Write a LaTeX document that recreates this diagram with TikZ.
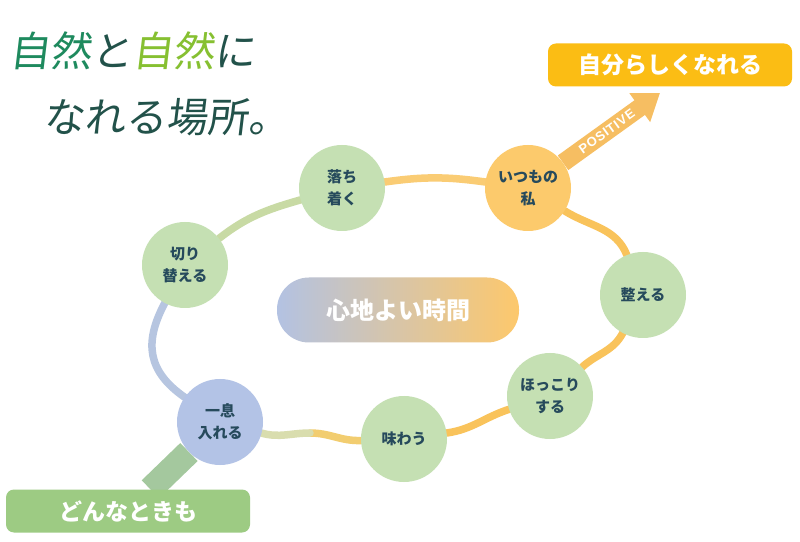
\documentclass[tikz,border=0pt]{standalone}
\usepackage{fontspec}
\setmainfont{Noto Sans CJK JP}
\newfontfamily\arrowfont[LetterSpace=6]{Liberation Sans}
\usetikzlibrary{arrows.meta,backgrounds}

\definecolor{leafgreen}{HTML}{C5E0B3}
\definecolor{mistblue}{HTML}{B3C3E6}
\definecolor{sunorange}{HTML}{FCCA6C}
\definecolor{inkblue}{HTML}{264A5C}
\definecolor{ringblue}{HTML}{B6C5E0}
\definecolor{ringgreen}{HTML}{C8DAA4}
\definecolor{ringlime}{HTML}{E2E3A2}
\definecolor{ringorange}{HTML}{F9C35B}
\definecolor{pillblue}{HTML}{B3C2E2}
\definecolor{pillorange}{HTML}{FDC86C}
\definecolor{goldbox}{HTML}{FBBD14}
\definecolor{grassbox}{HTML}{9DCB83}
\definecolor{stemgreen}{HTML}{A4C89E}
\definecolor{arroworange}{HTML}{F6BE62}
\definecolor{titledeep}{HTML}{1E8A5E}
\definecolor{titlelime}{HTML}{86C031}
\definecolor{titleink}{HTML}{22524A}

\begin{document}
\begin{tikzpicture}[x=1pt, y=1pt,
  moment/.style={circle, fill=leafgreen, minimum size=86pt, inner sep=0pt,
                 align=center, text=inkblue,
                 font=\fontsize{15}{22}\selectfont\bfseries},
  banner/.style={rounded corners=8pt, minimum width=244pt, minimum height=43pt,
                 text=white, font=\fontsize{23}{23}\selectfont\bfseries},
  ring/.style={line width=7.5pt, line cap=round},
  title/.style={anchor=west, xslant=0.12, transform shape, text=titleink,
                font=\fontsize{41}{41}\selectfont}]
\useasboundingbox (0,0) rectangle (800,541);

% the seven moments round the ring
\node[moment, fill=mistblue] (c1) at (220,119) {一息\\入れる};
\node[moment] (c2) at (185,276) {切り\\替える};
\node[moment] (c3) at (342,353) {落ち\\着く};
\node[moment, fill=sunorange] (c4) at (528,353) {いつもの\\私};
\node[moment] (c5) at (643,246) {整える};
\node[moment] (c6) at (550,145) {ほっこり\\する};
\node[moment] (c7) at (404,102) {味わう};

\node[shade, left color=pillblue, right color=pillorange, rounded corners=32pt,
      minimum width=242pt, minimum height=65pt, text=white,
      font=\fontsize{24}{24}\selectfont\bfseries] (core) at (398,231) {心地よい時間};

\node[banner, fill=goldbox] (goal) at (670,476) {自分らしくなれる};
\node[banner, fill=grassbox] (start) at (128,30) {どんなときも};
\coordinate (tip) at (660,448);
\coordinate (low) at (310,108);

% title
\node[title] (head1) at (8,490) {\textcolor{titledeep}{自然}と\textcolor{titlelime}{自然}に};
\node[title] (head2) at (42,424) {なれる場所。};

\begin{scope}[on background layer]
\fill[white] (0,0) rectangle (800,541);
\draw[ring, draw=ringblue] (c1) to[out=145, in=-118, looseness=1.2] (c2);
\draw[ring, draw=ringgreen] (c2) to[out=38, in=196] (c3);
\draw[ring, draw=ringorange!85!white] (c3) to[out=8, in=172] (c4);
\draw[ring, draw=ringorange] (c4) to[out=-32, in=112] (c5);
\draw[ring, draw=ringorange] (c5) to[out=-118, in=42] (c6);
\draw[ring, draw=ringorange] (c6) to[out=198, in=8] (c7);
\draw[ring, draw=ringorange!70!ringlime] (c7) to[out=182, in=0] (low);
\draw[ring, draw=ringlime!80!ringblue] (low) to[out=180, in=-15] (c1);
\draw[line width=25pt, draw=stemgreen] (c1) -- (start);
\draw[line width=18pt, draw=arroworange, -{Triangle[length=25pt, width=34pt]}]
  (c4) -- node[sloped, pos=0.45, text=white,
               font=\arrowfont\bfseries\fontsize{13}{13}\selectfont] (pos) {POSITIVE} (tip);
\end{scope}
\end{tikzpicture}
\end{document}
